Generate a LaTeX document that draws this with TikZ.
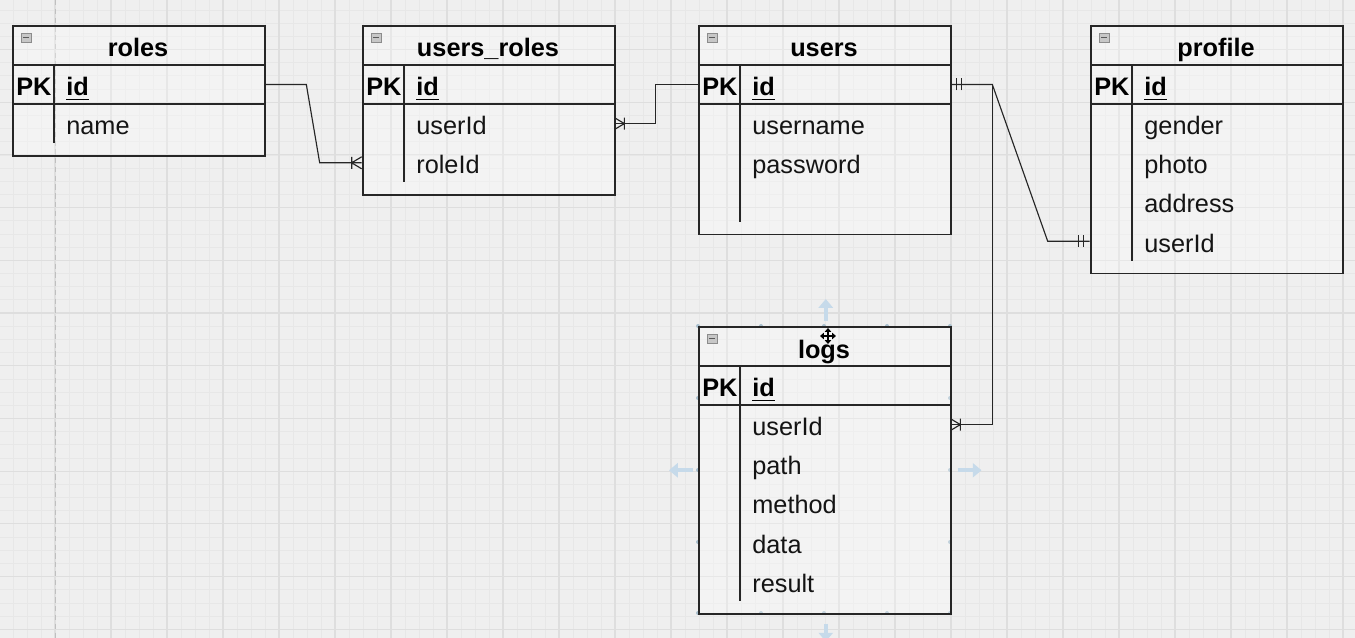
\documentclass[tikz,border=0pt]{standalone}
\usepackage{fontspec}
\setmainfont{Liberation Sans}
\usetikzlibrary{calc,arrows.meta}

\definecolor{bgcol}{HTML}{EFEFEF}
\definecolor{majorgrid}{HTML}{DEDEDE}
\definecolor{minorgrid}{HTML}{E7E7E7}
\definecolor{ink}{HTML}{262626}
\definecolor{handleblue}{HTML}{C6DAEA}
\definecolor{handledot}{HTML}{A9BFCD}

\tikzset{
  x=0.02cm, y=-0.02cm,
  tablebox/.style={rectangle, draw=ink, line width=0.9pt, fill=white,
    fill opacity=0.3, inner sep=0pt, minimum width=5.04cm, anchor=north west},
  rowbox/.style={rectangle, inner sep=0pt, minimum width=5.04cm, minimum height=0.784cm},
  titletext/.style={font=\fontsize{14.4}{17}\selectfont\bfseries, anchor=base, inner sep=0pt, text=black},
  fieldtext/.style={font=\fontsize{14.4}{17}\selectfont, anchor=base west, inner sep=0pt, text=black!92},
  keytext/.style={fieldtext, font=\fontsize{14.4}{17}\selectfont\bfseries, text=black},
  rule/.style={draw=ink, line width=0.9pt},
  conn/.style={draw=ink, line width=0.65pt},
  iconbox/.style={draw=black!45, fill=black!22, line width=0.4pt},
  icondash/.style={draw=black!65, line width=0.6pt},
  handle/.style={draw=handleblue, line width=2.2pt, -{Triangle[length=5pt,width=8pt]}},
  cursorarrow/.style={draw=black, line width=0.6pt,
    {Triangle[length=2.2pt,width=3.6pt]}-{Triangle[length=2.2pt,width=3.6pt]}},
  % crow's foot: one or many, line arriving from the left
  manyend/.pic={\draw[conn] (-10,-6) -- (-10,6) (-10,0) -- (0,-6) (-10,0) -- (0,6);},
  % exactly one: two bars, line arriving from the left
  oneend/.pic={\draw[conn] (-6,-6) -- (-6,6) (-11,-6) -- (-11,6);}
}

% \ertable{name}{left}{top}{title}{number of body rows}{fields}
\newcommand\ertable[6]{%
  \pgfmathsetmacro\erbot{79+39.2*#5+12}%
  \pgfmathsetlengthmacro\erhgt{\erbot*0.02cm}%
  \node[tablebox, minimum height=\erhgt] (#1) at (#2,#3) {};
  \begin{scope}[shift={(#2,#3)}]
    \draw[rule] (0,40) -- (252,40) (0,79) -- (252,79) (42,40) -- (42,{\erbot-12});
    \draw[iconbox] (9,8) rectangle (19,17);
    \draw[icondash] (11,12.5) -- (17,12.5);
    \node[titletext] (#1-title) at (126,32) {#4};
    \node[rowbox] (#1-id) at (126,59.5) {};
    \node[keytext] (#1-pk) at (4,70.5) {PK};
    \node[keytext] (#1-idtext) at (54,70.5) {id};
    \draw[line width=1.1pt] ($(#1-idtext.base west)+(0,4)$) -- ($(#1-idtext.base east)+(0,4)$);
    \foreach \f [count=\i] in {#6} {
      \node[rowbox] (#1-r\i) at (126,{79+19.6+39.2*(\i-1)}) {};
      \node[fieldtext] (#1-t\i) at (54,{79+30.5+39.2*(\i-1)}) {\f};
    }
  \end{scope}}

\begin{document}
\begin{tikzpicture}
  % canvas and grid
  \fill[bgcol] (0,0) rectangle (1355,638);
  \useasboundingbox (0,0) rectangle (1355,638);
  \foreach \k in {0,...,97} {
    \pgfmathsetmacro\xx{-1+14*\k}
    \draw[minorgrid, line width=0.4pt] (\xx,0) -- (\xx,638);
  }
  \foreach \k in {0,...,49} {
    \pgfmathsetmacro\yy{-3.2+13.175*\k}
    \draw[minorgrid, line width=0.4pt] (0,\yy) -- (1355,\yy);
  }
  \foreach \k in {0,...,24} {
    \pgfmathsetmacro\xx{-1+56*\k}
    \draw[majorgrid, line width=0.6pt] (\xx,0) -- (\xx,638);
  }
  \foreach \k in {0,...,12} {
    \pgfmathsetmacro\yy{-3.2+52.7*\k}
    \draw[majorgrid, line width=0.6pt] (0,\yy) -- (1355,\yy);
  }
  % page break
  \draw[black!25, line width=0.5pt, dash pattern=on 3pt off 2pt] (55,0) -- (55,638);

  % selection handles around logs (under the table border)
  \foreach \hx in {698,761,824,887,950} {
    \fill[handledot] (\hx,326) circle (2);
    \fill[handledot] (\hx,613) circle (2);
  }
  \foreach \hy in {398,470,542} {
    \fill[handledot] (698,\hy) circle (2);
    \fill[handledot] (950,\hy) circle (2);
  }

  % tables
  \ertable{roles}{12}{25}{roles}{1}{name}
  \ertable{ur}{362}{25}{users\_roles}{2}{userId,roleId}
  \ertable{users}{698}{25}{users}{3}{username,password}
  \ertable{profile}{1090}{25}{profile}{4}{gender,photo,address,userId}
  \ertable{logs}{698}{326}{logs}{5}{userId,path,method,data,result}

  % relations
  \draw[conn] (roles-id.east) -- ++(42,0) -- ($(ur-r2.west)+(-42,0)$) -- (ur-r2.west);
  \pic at (ur-r2.west) {manyend};

  \draw[conn] (users-id.west) -- ++(-42,0) |- (ur-r1.east);
  \pic[rotate=180] at (ur-r1.east) {manyend};

  \draw[conn] (users-id.east) -- ++(42,0) -- ($(profile-r4.west)+(-42,0)$) -- (profile-r4.west);
  \pic[rotate=180] at (users-id.east) {oneend};
  \pic at (profile-r4.west) {oneend};

  \draw[conn] (users-id.east) -- ++(42,0) |- (logs-r1.east);
  \pic[rotate=180] at (logs-r1.east) {manyend};

  % resize arrows around logs
  \draw[handle] ($(logs.north)+(1,-5)$) -- ++(0,-22);
  \draw[handle] ($(logs.west)+(-5,0)$) -- ++(-24,0);
  \draw[handle] ($(logs.east)+(6,0)$) -- ++(24,0);
  \draw[handle] ($(logs.south)+(1,9)$) -- ++(0,18);

  % move cursor
  \begin{scope}[shift={(828,336)}]
    \draw[cursorarrow] (-8,0) -- (8,0);
    \draw[cursorarrow] (0,-8) -- (0,8);
  \end{scope}
\end{tikzpicture}
\end{document}
